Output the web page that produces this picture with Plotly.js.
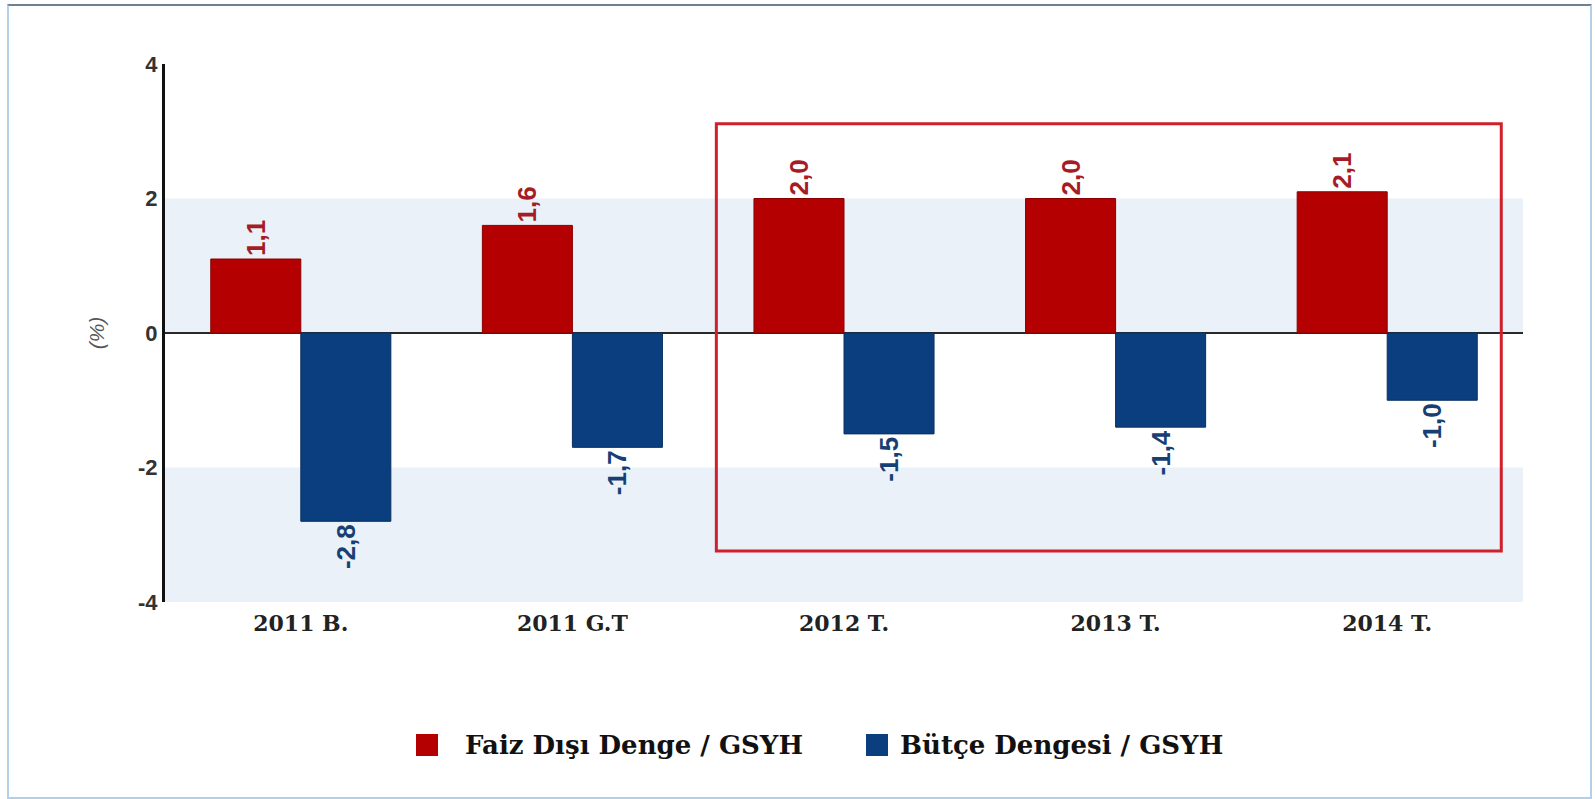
<!DOCTYPE html>
<html>
<head>
<meta charset="utf-8">
<script src="https://cdn.plot.ly/plotly-3.0.1.min.js"></script>
<style>
  html, body { margin: 0; padding: 0; background: #ffffff; }
  #chart { width: 1595px; height: 799px; }
  #frame { position: absolute; left: 7px; top: 4px; width: 1581px; height: 791px;
           border: 2px solid #b4cfe8; border-top-color: #6a8292; pointer-events: none; }
</style>
</head>
<body>
<div id="chart"></div>
<div id="frame"></div>
<script>
const categories = ['2011 B.', '2011 G.T', '2012 T.', '2013 T.', '2014 T.'];
const faizDisiDenge = [1.1, 1.6, 2.0, 2.0, 2.1];
const butceDengesi = [-2.8, -1.7, -1.5, -1.4, -1.0];
const yTickVals = [-4, -2, 0, 2, 4];
const yTickText = ['-4', '-2', '0', '2', '4'];
const seriesNames = ['Faiz Dışı Denge / GSYH', 'Bütçe Dengesi / GSYH'];
const seriesColors = ['#b40000', '#0b3e7f'];

const labelFont = 'Liberation Sans, Arial, sans-serif';
const serifFont = 'DejaVu Serif, Liberation Serif, serif';

// plot area in page pixels (for placing the hand-drawn legend)
const W = 1595, H = 799;
const M = { l: 165, r: 72, t: 64, b: 197 };
const pw = W - M.l - M.r, ph = H - M.t - M.b;
const px = x => (x - M.l) / pw;
const py = y => (H - M.b - y) / ph;

const traces = [
  {
    type: 'bar', name: seriesNames[0], x: categories, y: faizDisiDenge,
    marker: { color: seriesColors[0], line: { color: '#8a0000', width: 1 } },
    texttemplate: '%{y:.1f}', textposition: 'outside', textangle: -90,
    constraintext: 'none', cliponaxis: false,
    textfont: { family: labelFont, size: 26, color: '#a61c26', weight: 'bold' },
    hoverinfo: 'skip'
  },
  {
    type: 'bar', name: seriesNames[1], x: categories, y: butceDengesi,
    marker: { color: seriesColors[1], line: { color: '#08305f', width: 1 } },
    texttemplate: '%{y:.1f}', textposition: 'outside', textangle: -90,
    constraintext: 'none', cliponaxis: false,
    textfont: { family: labelFont, size: 26, color: '#173f73', weight: 'bold' },
    hoverinfo: 'skip'
  }
];

const legendItems = [
  { sx: 416, tx: 463 },
  { sx: 866, tx: 898 }
];
const legendCy = 745, legendSq = 22;

const legendShapes = legendItems.map((it, i) => ({
  type: 'rect', xref: 'paper', yref: 'paper', layer: 'above',
  x0: px(it.sx), x1: px(it.sx + legendSq),
  y0: py(legendCy - legendSq / 2), y1: py(legendCy + legendSq / 2),
  fillcolor: seriesColors[i], line: { width: 0 }
}));
const legendTexts = legendItems.map((it, i) => ({
  xref: 'paper', yref: 'paper', x: px(it.tx), y: py(legendCy),
  xanchor: 'left', yanchor: 'middle', showarrow: false,
  text: seriesNames[i],
  font: { family: serifFont, size: 26, color: '#111111', weight: 'bold' }
}));

const layout = {
  width: W, height: H,
  margin: M,
  paper_bgcolor: '#ffffff', plot_bgcolor: 'rgba(0,0,0,0)',
  separators: ',.',
  barmode: 'group', bargap: 0.337, bargroupgap: 0,
  showlegend: false,
  xaxis: {
    type: 'category', showline: false, showgrid: false, zeroline: false, ticks: '',
    ticklabelstandoff: 6,
    tickfont: { family: serifFont, size: 22, color: '#222222', weight: 'bold' }
  },
  yaxis: {
    range: [-4, 4], tickvals: yTickVals, ticktext: yTickText, showgrid: false,
    showline: true, linecolor: '#111111', linewidth: 3,
    zeroline: true, zerolinecolor: '#2a2a2a', zerolinewidth: 2,
    ticks: '', ticklabelstandoff: 0,
    tickfont: { family: labelFont, size: 22, color: '#333333', weight: 'bold' },
    title: { text: '(%)', standoff: 28,
             font: { family: labelFont, size: 21, color: '#555555', style: 'italic' } }
  },
  shapes: [
    { type: 'rect', layer: 'below', xref: 'paper', yref: 'y', x0: 0, x1: 1, y0: 0, y1: 2,
      fillcolor: '#eaf1f9', line: { width: 0 } },
    { type: 'rect', layer: 'below', xref: 'paper', yref: 'y', x0: 0, x1: 1, y0: -4, y1: -2,
      fillcolor: '#eaf1f9', line: { width: 0 } },
    { type: 'rect', layer: 'above', xref: 'x', yref: 'y', x0: 1.53, x1: 4.42, y0: -3.24, y1: 3.11,
      fillcolor: 'rgba(0,0,0,0)', line: { color: '#d0202b', width: 3 } }
  ].concat(legendShapes),
  annotations: legendTexts
};

Plotly.newPlot('chart', traces, layout, { displayModeBar: false, staticPlot: true });
</script>
</body>
</html>
